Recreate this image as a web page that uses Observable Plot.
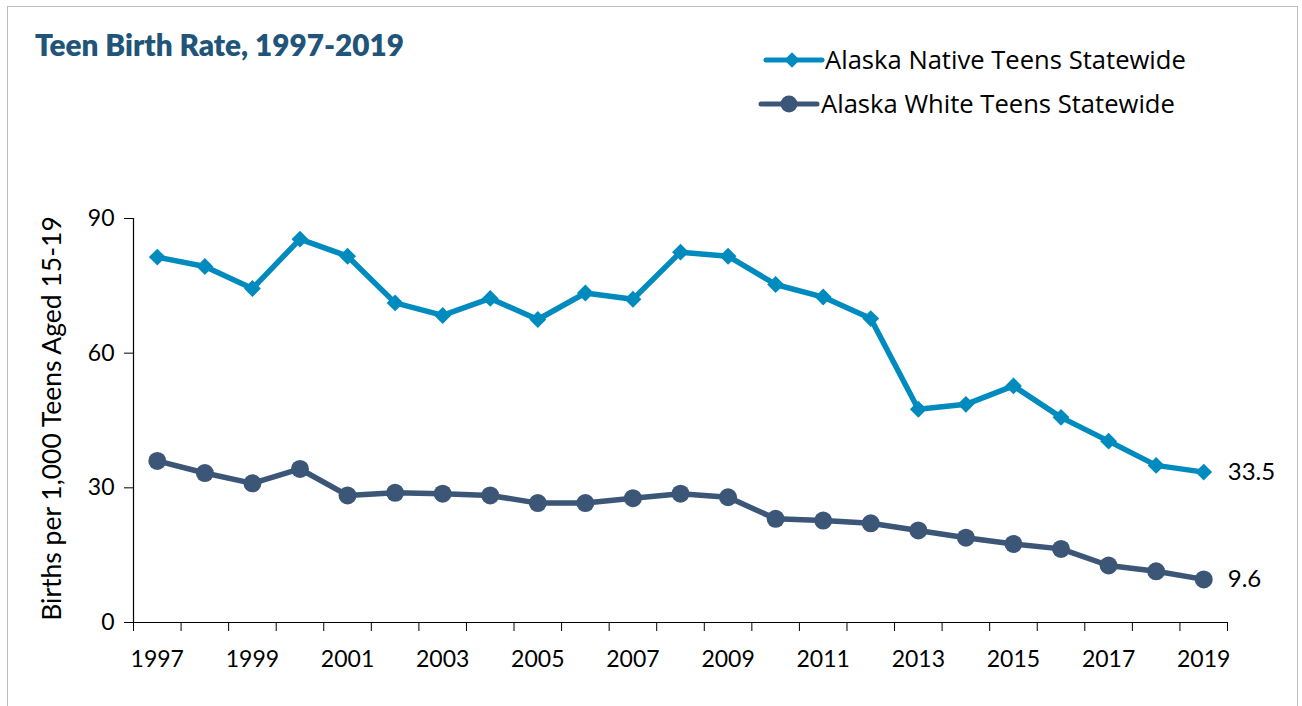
<!DOCTYPE html>
<html>
<head>
<meta charset="utf-8">
<script src="https://cdn.jsdelivr.net/npm/d3@7"></script>
<script src="https://cdn.jsdelivr.net/npm/@observablehq/plot@0.6"></script>
<style>
  html, body { margin: 0; padding: 0; background: #fff; }
  #wrap { position: relative; width: 1302px; height: 706px; overflow: hidden; }
  #frame { position: absolute; left: 7px; top: 6px; width: 1291px; height: 720px; border: 1px solid #bdbdbd; box-sizing: border-box; }
  #overlay { position: absolute; left: 0; top: 0; pointer-events: none; }
  #chart { position: absolute; left: 0; top: 0; }
</style>
</head>
<body>
<div id="wrap">
  <div id="frame"></div>
  <div id="chart"></div>
  <svg id="overlay" width="1302" height="706" xmlns="http://www.w3.org/2000/svg"></svg>
</div>
<script>
const title = "Teen Birth Rate, 1997-2019";
const yLabel = "Births per 1,000 Teens Aged 15-19";
const seriesNames = ["Alaska Native Teens Statewide", "Alaska White Teens Statewide"];
const seriesColors = ["#008bbf", "#3c5677"];
const years = [1997, 1998, 1999, 2000, 2001, 2002, 2003, 2004, 2005, 2006, 2007, 2008,
               2009, 2010, 2011, 2012, 2013, 2014, 2015, 2016, 2017, 2018, 2019];
const nativeRates = [81.4, 79.3, 74.4, 85.4, 81.6, 71.2, 68.4, 72.2, 67.5, 73.4, 72.0, 82.5,
                     81.6, 75.3, 72.5, 67.7, 47.5, 48.6, 52.7, 45.7, 40.4, 35.0, 33.5];
const whiteRates = [36.0, 33.3, 31.0, 34.2, 28.3, 28.9, 28.7, 28.3, 26.6, 26.6, 27.7, 28.7,
                    27.9, 23.1, 22.7, 22.1, 20.5, 18.9, 17.5, 16.4, 12.7, 11.4, 9.6];
const xTickLabels = [1997, 1999, 2001, 2003, 2005, 2007, 2009, 2011, 2013, 2015, 2017, 2019];
const yTicks = [0, 30, 60, 90];

const FONT = "Lato, 'Open Sans', sans-serif";
const LEGEND_FONT = "'Open Sans', 'DejaVu Sans', sans-serif";

const native = years.map((y, i) => ({year: y, rate: nativeRates[i]}));
const white = years.map((y, i) => ({year: y, rate: whiteRates[i]}));
const boundaries = years.map(y => y - 0.5).concat([years[years.length - 1] + 0.5]);
const lastNative = native[native.length - 1];
const lastWhite = white[white.length - 1];

const chart = Plot.plot({
  width: 1302,
  height: 706,
  marginLeft: 133,
  marginRight: 75,
  marginTop: 218,
  marginBottom: 84,
  style: {fontFamily: FONT, fontSize: "23px", color: "#000", background: "transparent", overflow: "visible"},
  x: {domain: [years[0] - 0.5, years[years.length - 1] + 0.5]},
  y: {domain: [0, 90]},
  marks: [
    Plot.axisY(yTicks, {tickSize: 9, tickPadding: 10, stroke: "#000", fontSize: 23, label: null}),
    Plot.axisX(boundaries, {tickSize: 9, tickFormat: () => "", stroke: "#000", label: null}),
    Plot.axisX(xTickLabels, {tickSize: 0, tickPadding: 28, tickFormat: d => String(d), fontSize: 23, label: null}),
    Plot.ruleY([0], {stroke: "#000", strokeWidth: 1.2}),
    Plot.ruleX([years[0] - 0.5], {stroke: "#000", strokeWidth: 1.2}),
    Plot.text([yLabel], {frameAnchor: "left", textAnchor: "middle", rotate: -90, dx: -81, dy: -2, fontSize: 26.5, fill: "#000"}),
    Plot.line(native, {x: "year", y: "rate", stroke: seriesColors[0], strokeWidth: 5.5}),
    Plot.dot(native, {x: "year", y: "rate", symbol: "diamond2", r: 7.6, fill: seriesColors[0], stroke: "none"}),
    Plot.line(white, {x: "year", y: "rate", stroke: seriesColors[1], strokeWidth: 5.5}),
    Plot.dot(white, {x: "year", y: "rate", r: 9, fill: seriesColors[1], stroke: "none"}),
    Plot.text([lastNative], {x: "year", y: "rate", text: d => d.rate.toFixed(1), dx: 24, textAnchor: "start", fontSize: 24, fill: "#000"}),
    Plot.text([lastWhite], {x: "year", y: "rate", text: d => d.rate.toFixed(1), dx: 24, textAnchor: "start", fontSize: 24, fill: "#000"})
  ]
});
document.getElementById("chart").appendChild(chart);

// Title and legend overlay
const ov = d3.select("#overlay");
ov.append("text")
  .attr("x", 35).attr("y", 56)
  .attr("font-family", FONT).attr("font-weight", 800).attr("font-size", 29.7)
  .attr("fill", "#215479").text(title);

const legendRows = [
  {name: seriesNames[0], color: seriesColors[0], symbol: d3.symbolDiamond2, x0: 766, x1: 822, mx: 792, y: 60, tx: 825, size: Math.PI * 7 * 7},
  {name: seriesNames[1], color: seriesColors[1], symbol: d3.symbolCircle, x0: 761, x1: 817, mx: 789, y: 104, tx: 821, size: Math.PI * 8.5 * 8.5}
];
legendRows.forEach(r => {
  ov.append("line").attr("x1", r.x0).attr("x2", r.x1).attr("y1", r.y).attr("y2", r.y)
    .attr("stroke", r.color).attr("stroke-width", 5).attr("stroke-linecap", "round");
  ov.append("path").attr("d", d3.symbol(r.symbol, r.size)()).attr("transform", `translate(${r.mx},${r.y})`)
    .attr("fill", r.color);
  ov.append("text").attr("x", r.tx).attr("y", r.y).attr("dy", "0.36em")
    .attr("font-family", LEGEND_FONT).attr("font-size", 25.6).attr("fill", "#000").text(r.name);
});
</script>
</body>
</html>
